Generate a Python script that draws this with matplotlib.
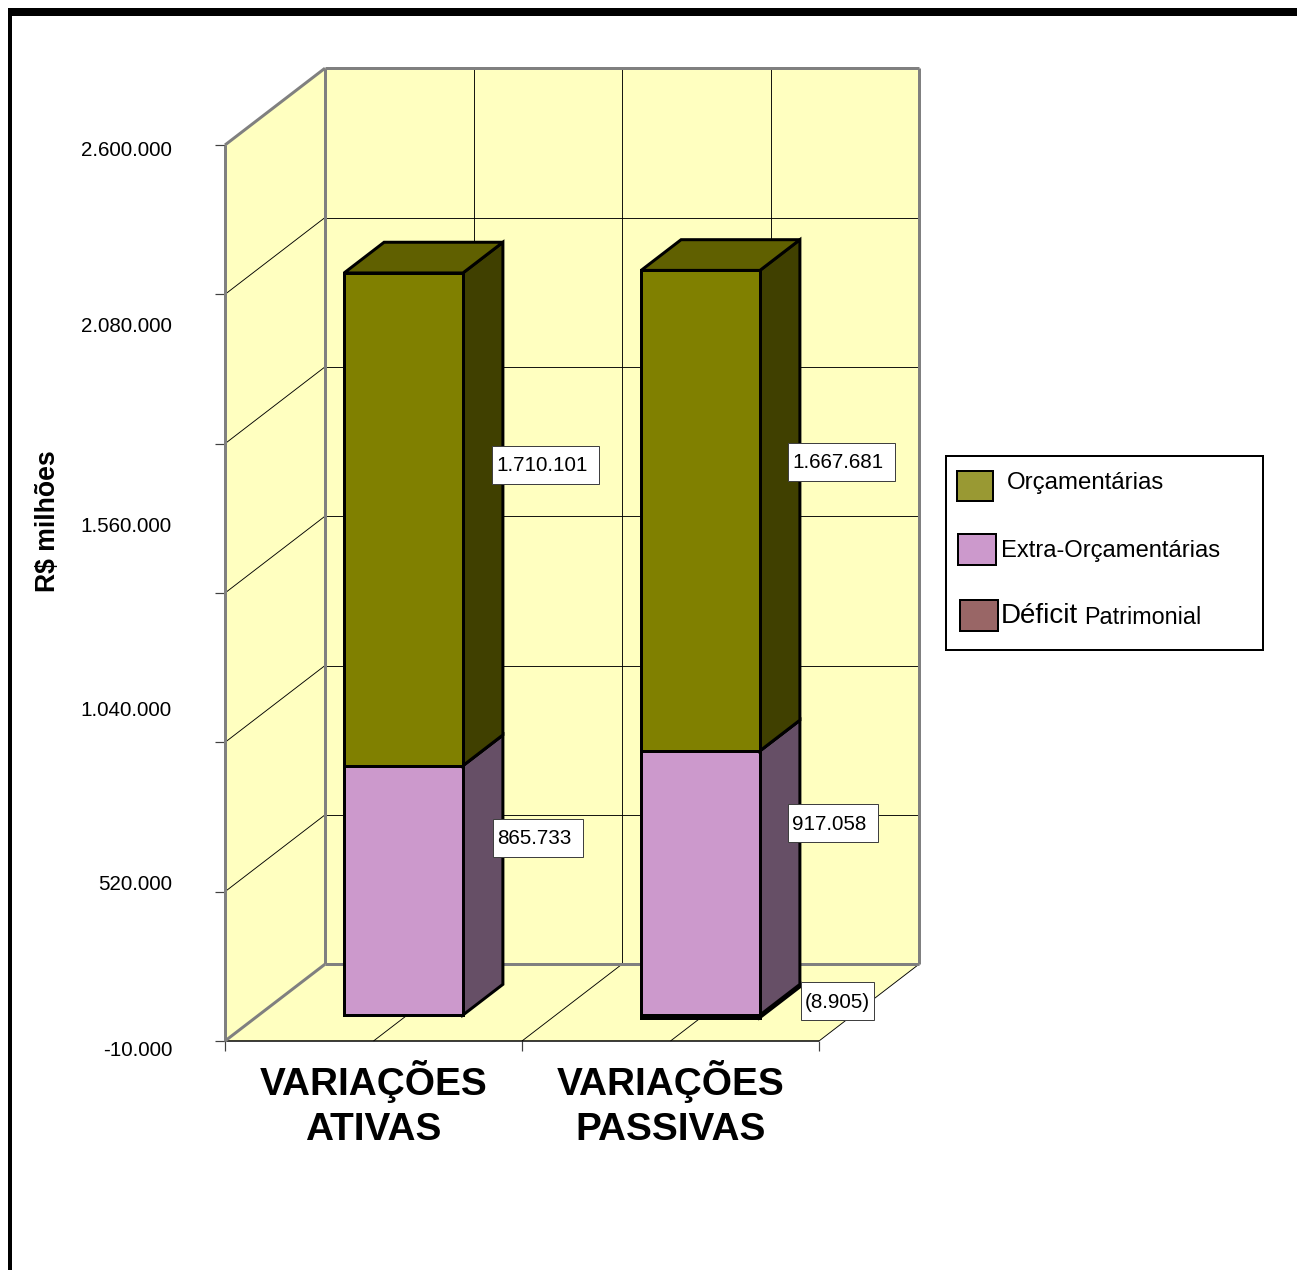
#!/usr/bin/env python3
"""
plot.py
Stacked 3D-look column chart of the variacoes ativas / passivas
"""
import numpy as np
import matplotlib
matplotlib.use('Agg')
import matplotlib.pyplot as plt
from matplotlib.patches import Rectangle

categories = ['VARIAÇÕES\nATIVAS', 'VARIAÇÕES\nPASSIVAS']
deficit = [0, -8905]
extra = [865733, 917058]
orcamentarias = [1710101, 1667681]
series_names = ['Orçamentárias', 'Extra-Orçamentárias', 'Déficit', 'Patrimonial']
tick_labels = ['2.600.000', '2.080.000', '1.560.000', '1.040.000', '520.000', '-10.000']

W, H = 1297, 1270
PX = 0.72  # one pixel in points at dpi 100
AXIS_MIN, AXIS_MAX = -10000, 3100000
FONT = 'Liberation Sans'
WALL = '#FFFFC0'
EDGE = '#808080'

plt.rcParams['font.family'] = FONT
fig = plt.figure(figsize=(W / 100, H / 100), dpi=100, facecolor='white')
# the axes is the front plane of the 3D box
ax = fig.add_axes([225 / W, 1 - 1041 / H, 594 / W, 896 / H])
ax.set_xlim(0, 2)
ax.set_ylim(AXIS_MIN, AXIS_MAX)
ax.patch.set_visible(False)
for spine in ax.spines.values():
    spine.set_visible(False)

DEPTH_X = 100 / 297
DEPTH_V = 76.8 * (AXIS_MAX - AXIS_MIN) / 896


def proj(x, v, d):
    """Oblique projection of a point at depth d (0 front, 1 back)."""
    return x + d * DEPTH_X, v + d * DEPTH_V


def face(points, color, edge='black', lw=3.0, z=3):
    xs, ys = zip(*[proj(*p) for p in points])
    ax.fill(xs, ys, facecolor=color, edgecolor=edge, linewidth=lw * PX,
            joinstyle='miter', clip_on=False, zorder=z)


def line(p1, p2, color='black', lw=0.9, z=2):
    a, b = proj(*p1), proj(*p2)
    ax.plot([a[0], b[0]], [a[1], b[1]], color=color, linewidth=lw * PX,
            solid_capstyle='butt', clip_on=False, zorder=z)


def block(x, low, high, front, side, top, d0=0.3, d1=0.7, half=0.2):
    """One bar segment: side, top and front faces."""
    face([(x + half, low, d0), (x + half, low, d1),
          (x + half, high, d1), (x + half, high, d0)], side)
    face([(x - half, high, d0), (x + half, high, d0),
          (x + half, high, d1), (x - half, high, d1)], top)
    face([(x - half, low, d0), (x + half, low, d0),
          (x + half, high, d0), (x - half, high, d0)], front)


grid_values = np.linspace(AXIS_MIN, AXIS_MAX, 7)

# walls and floor
face([(0, AXIS_MIN, 1), (2, AXIS_MIN, 1), (2, AXIS_MAX, 1), (0, AXIS_MAX, 1)],
     WALL, edge='none', lw=0, z=1)
face([(0, AXIS_MIN, 0), (0, AXIS_MIN, 1), (0, AXIS_MAX, 1), (0, AXIS_MAX, 0)],
     WALL, edge='none', lw=0, z=1)
face([(0, AXIS_MIN, 0), (2, AXIS_MIN, 0), (2, AXIS_MIN, 1), (0, AXIS_MIN, 1)],
     WALL, edge='none', lw=0, z=1)

# gridlines
for v in grid_values[1:-1]:
    line((0, v, 0), (0, v, 1))
    line((0, v, 1), (2, v, 1))
for x in [0.5, 1.0, 1.5]:
    line((x, AXIS_MIN, 1), (x, AXIS_MAX, 1))
    line((x, AXIS_MIN, 0), (x, AXIS_MIN, 1))
line((2, AXIS_MIN, 0), (2, AXIS_MIN, 1))
line((0, AXIS_MIN, 0), (2, AXIS_MIN, 0), lw=1.5)

# grey box outline
line((0, AXIS_MAX, 0), (0, AXIS_MAX, 1), EDGE, 3)
line((0, AXIS_MAX, 1), (2, AXIS_MAX, 1), EDGE, 3)
line((2, AXIS_MIN, 1), (2, AXIS_MAX, 1), EDGE, 3)
line((0, AXIS_MIN, 1), (0, AXIS_MAX, 1), EDGE, 3)
line((0, AXIS_MIN, 1), (2, AXIS_MIN, 1), EDGE, 3)
line((0, AXIS_MIN, 0), (0, AXIS_MIN, 1), EDGE, 3)
line((0, AXIS_MIN, 0), (0, AXIS_MAX, 0), EDGE, 3)

# bars
centers = np.arange(len(categories)) + 0.5
for i, x in enumerate(centers):
    if deficit[i] != 0:
        block(x, deficit[i], 0, '#996666', '#4D3333', '#7A5252')
    block(x, 0, extra[i], '#CC99CC', '#664F66', '#9A749A')
    block(x, extra[i], extra[i] + orcamentarias[i],
          '#808000', '#404000', '#606000')

# axis ticks and category labels from the library
ax.set_yticks(grid_values)
ax.set_yticklabels([])
ax.set_xticks([0, 1, 2])
ax.set_xticklabels([])
ax.tick_params(axis='both', which='major', length=10 * PX, width=1.2 * PX,
               color='#404040')
ax.set_xticks(centers, minor=True)
ax.set_xticklabels(categories, minor=True, fontsize=27.9, fontweight='bold',
                   linespacing=1.32)
ax.tick_params(axis='x', which='minor', length=0, pad=13.5)


def fig_text(x, y, s, **kw):
    """Text placed by pixel position of the layout."""
    kw.setdefault('va', 'center')
    kw.setdefault('zorder', 6)
    return fig.text(x / W, 1 - y / H, s, **kw)


def fig_box(x0, y0, x1, y1, color, edge='black', lw=1.0, z=5):
    fig.add_artist(Rectangle((x0 / W, 1 - y1 / H), (x1 - x0) / W, (y1 - y0) / H,
                             transform=fig.transFigure, facecolor=color,
                             edgecolor=edge, linewidth=lw * PX, zorder=z))


# hand placed value axis labels
label_y = [151, 327, 527, 710, 885, 1051]
for y, s in zip(label_y, tick_labels):
    fig_text(172, y, s, ha='right', fontsize=14.9)
fig_text(48, 521, 'R$ milhões', ha='center', rotation=90, fontsize=19.2,
         fontweight='bold')

# data label boxes
fmt = lambda v: f'{abs(v):,}'.replace(',', '.')
boxes = [
    (492, 446, 599, 484, fmt(orcamentarias[0])),
    (788, 443, 895, 481, fmt(orcamentarias[1])),
    (493, 819, 583, 857, fmt(extra[0])),
    (788, 804, 878, 842, fmt(extra[1])),
    (801, 982, 874, 1020, '(' + fmt(deficit[1]) + ')'),
]
for x0, y0, x1, y1, s in boxes:
    fig_box(x0, y0, x1, y1, 'white', edge='#404040')
    shift = 0 if s.startswith('(') else 3.5
    fig_text((x0 + x1) / 2 - shift, (y0 + y1) / 2 + 1, s, ha='center', fontsize=14.9)

# legend
fig_box(946, 456, 1263, 650, 'white', lw=2)
fig_box(957, 471, 993, 501, '#999933', lw=2)
fig_box(958, 534, 996, 565, '#CC99CC', lw=2)
fig_box(960, 600, 998, 631, '#996666', lw=2)
fig_text(1007, 483, series_names[0], fontsize=17.3)
fig_text(1001, 551, series_names[1], fontsize=17.1)
fig_text(1001, 616, series_names[2], fontsize=20)
fig_text(1084, 617, series_names[3], fontsize=16.8)

# black frame of the slide
fig_box(8, 8, W, 16, 'black', edge='none', lw=0, z=7)
fig_box(8, 8, 12, H, 'black', edge='none', lw=0, z=7)

fig.savefig('out.png', dpi=100)
